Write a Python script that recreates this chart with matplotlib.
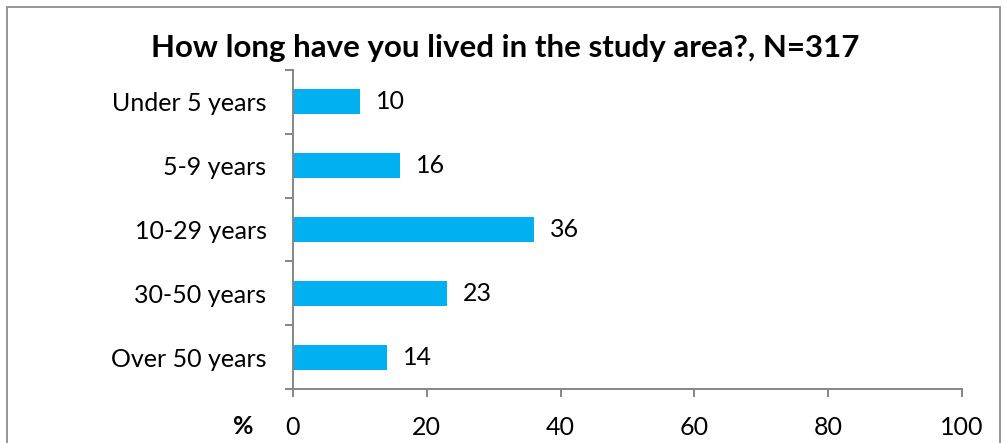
import matplotlib.pyplot as plt
from matplotlib.patches import Rectangle

categories = ["Under 5 years", "5-9 years", "10-29 years", "30-50 years", "Over 50 years"]
values = [10, 16, 36, 23, 14]
x_ticks = [0, 20, 40, 60, 80, 100]

plt.rcParams["font.family"] = ["Lato", "DejaVu Sans"]

W, H = 1007, 443
fig = plt.figure(figsize=(W / 100, H / 100), dpi=100)
ax = fig.add_axes([293 / W, 1 - 389 / H, (962 - 293) / W, (389 - 70) / H])

# outer chart frame
fig.patches.append(Rectangle((7 / W, -0.05), (1000 - 7) / W, 1 - 7 / H + 0.05,
                             transform=fig.transFigure, fill=False,
                             edgecolor="#8c8c8c", linewidth=1.3))

ypos = list(range(len(categories)))
ax.barh(ypos, values, height=0.39, color="#00B0F0")
for y, v in zip(ypos, values):
    ax.text(v + 2.4, y, str(v), va="center", ha="left", fontsize=18)

ax.set_xlim(0, 100)
ax.set_ylim(len(categories) - 0.5, -0.5)
ax.set_xticks(x_ticks)
ax.set_xticklabels([str(t) for t in x_ticks], fontsize=18)
ax.set_yticks(ypos)
ax.set_yticklabels(categories, fontsize=18)
ax.tick_params(axis="y", length=0, pad=19)
ax.set_yticks([i - 0.5 for i in range(len(categories) + 1)], minor=True)
ax.tick_params(axis="y", which="minor", length=5.5, width=1.4, color="#868686")
ax.tick_params(axis="x", length=5.5, width=1.4, color="#868686", pad=14)

for s in ["top", "right"]:
    ax.spines[s].set_visible(False)
for s in ["left", "bottom"]:
    ax.spines[s].set_color("#868686")
    ax.spines[s].set_linewidth(1.4)

fig.text(505 / W, 1 - 48 / H, "How long have you lived in the study area?, N=317",
         ha="center", va="center", fontsize=22.5, fontweight="bold")
fig.text(243 / W, 1 - 427 / H, "%", ha="center", va="center", fontsize=18, fontweight="bold")

fig.savefig("out.png", dpi=100)
